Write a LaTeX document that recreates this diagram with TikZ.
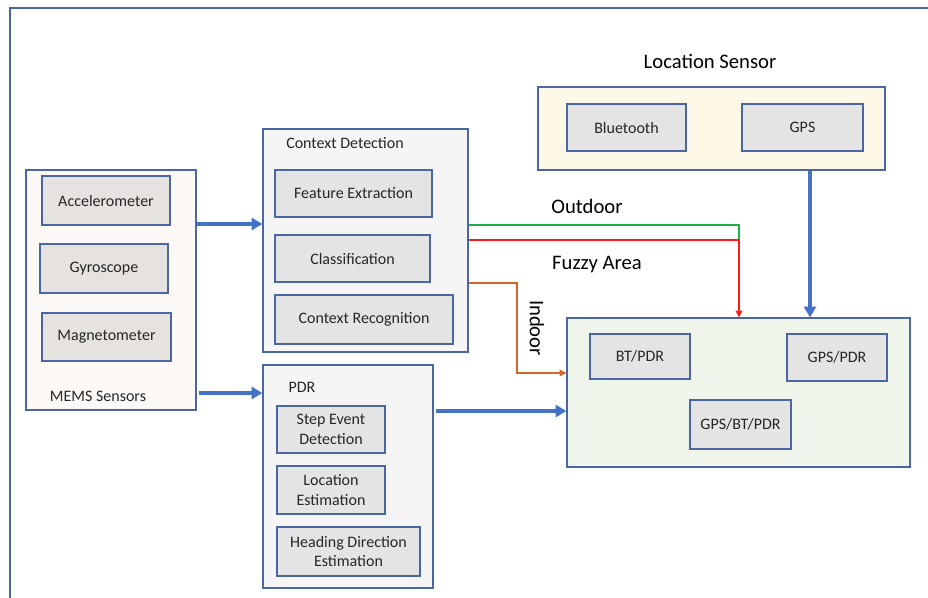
\documentclass[tikz,border=0pt]{standalone}
\usepackage{fontspec}
\setmainfont{Carlito}
\usetikzlibrary{arrows.meta}
\definecolor{framblue}{HTML}{4A67A3}
\definecolor{flowblue}{HTML}{4472C4}
\definecolor{inkgray}{HTML}{262626}
\definecolor{unitfill}{HTML}{E4E4E4}
\definecolor{memsunit}{HTML}{E6E2DF}
\definecolor{memsfill}{HTML}{FCF9F7}
\definecolor{procfill}{HTML}{F5F5F5}
\definecolor{locfill}{HTML}{FDF7E8}
\definecolor{fusfill}{HTML}{F0F5EB}
\definecolor{outgreen}{HTML}{1FAF4B}
\definecolor{fuzzred}{HTML}{FF1A1A}
\definecolor{inorange}{HTML}{D2662A}
\tikzset{
	container/.style={draw=framblue,line width=1pt,rectangle,inner sep=0pt},
	unit/.style={draw=framblue,line width=1.3pt,fill=unitfill,rectangle,inner sep=0pt,
		text=inkgray,font=\fontsize{12}{14.5}\selectfont,align=center},
	blab/.style={text=inkgray,font=\fontsize{12}{14.5}\selectfont},
	biglab/.style={text=black,font=\fontsize{15.5}{18}\selectfont},
	bluearrow/.style={draw=flowblue,line width=2.5pt,-{Triangle[length=8pt,width=9pt]}},
	thin/.style={line width=1.1pt}
}
\begin{document}
\begin{tikzpicture}[x=0.75pt,y=-0.75pt]
	\clip (0,0) rectangle (928,597);
	\fill[white] (0,0) rectangle (928,597);
	\draw [framblue,line width=1.5pt] (10,8) rectangle (960,640);
	% MEMS sensors
	\node [container,fill=memsfill,minimum width=170*0.75pt,minimum height=240*0.75pt] (mems) at (111,290) {};
	\node [unit,fill=memsunit,minimum width=128*0.75pt,minimum height=49*0.75pt] (accel) at (106,200.5) {Accelerometer};
	\node [unit,fill=memsunit,minimum width=128*0.75pt,minimum height=49*0.75pt] (gyro) at (104,268.5) {Gyroscope};
	\node [unit,fill=memsunit,minimum width=129*0.75pt,minimum height=48*0.75pt] (magneto) at (106.5,337) {Magnetometer};
	\node [blab] (memslab) at (98,396) {MEMS Sensors};
	% context detection
	\node [container,fill=procfill,minimum width=205*0.75pt,minimum height=223*0.75pt] (ctx) at (365.5,240.5) {};
	\node [blab] (ctxlab) at (345,143) {Context Detection};
	\node [unit,minimum width=157*0.75pt,minimum height=47*0.75pt] (feat) at (353.5,193.5) {Feature Extraction};
	\node [unit,minimum width=155*0.75pt,minimum height=47*0.75pt] (classif) at (352.5,258.5) {Classification};
	\node [unit,minimum width=178*0.75pt,minimum height=49*0.75pt] (recog) at (364,319.5) {Context Recognition};
	% PDR
	\node [container,fill=procfill,minimum width=170*0.75pt,minimum height=223*0.75pt] (pdr) at (348,476.5) {};
	\node [blab] (pdrlab) at (302,387) {PDR};
	\node [unit,minimum width=108*0.75pt,minimum height=47*0.75pt] (step) at (331,429.5) {Step Event\\Detection};
	\node [unit,minimum width=108*0.75pt,minimum height=48*0.75pt] (locest) at (331,490) {Location\\Estimation};
	\node [unit,minimum width=143*0.75pt,minimum height=49*0.75pt] (heading) at (348.5,551.5) {Heading Direction\\Estimation};
	% location sensor
	\node [biglab] (loclab) at (710,61) {Location Sensor};
	\node [container,fill=locfill,minimum width=347*0.75pt,minimum height=83*0.75pt] (loc) at (711.5,128.5) {};
	\node [unit,minimum width=119*0.75pt,minimum height=47*0.75pt] (bt) at (626.5,127.5) {Bluetooth};
	\node [unit,minimum width=121*0.75pt,minimum height=47*0.75pt] (gps) at (802.5,127.5) {GPS};
	% fusion
	\node [container,fill=fusfill,minimum width=343*0.75pt,minimum height=149*0.75pt] (fus) at (738.5,392.5) {};
	\node [unit,minimum width=100*0.75pt,minimum height=45*0.75pt] (btpdr) at (640,356.5) {BT/PDR};
	\node [unit,minimum width=100*0.75pt,minimum height=47*0.75pt] (gpspdr) at (837,357.5) {GPS/PDR};
	\node [unit,minimum width=101*0.75pt,minimum height=49*0.75pt] (allpdr) at (740.5,424.5) {GPS/BT/PDR};
	% labels on the links
	\node [biglab] (outlab) at (587,206) {Outdoor};
	\node [biglab] (fuzlab) at (597,265) {Fuzzy Area};
	\node [biglab,rotate=-90] (inlab) at (537,328) {Indoor};
	% links
	\draw [bluearrow] (mems.east |- 0,224) -- (ctx.west |- 0,224);
	\draw [bluearrow] ([xshift=2pt]mems.east |- 0,393) -- (pdr.west |- 0,393);
	\draw [bluearrow] ([xshift=2pt]pdr.east |- 0,411) -- (fus.west |- 0,411);
	\draw [bluearrow] (loc.south -| 810,0) -- (fus.north -| 810,0);
	\draw [thin,outgreen] (ctx.east |- 0,225) -- (739,225) -- (739,240);
	\draw [thin,fuzzred,-{Triangle[length=5pt,width=5pt]}] (ctx.east |- 0,240) -| (fus.north -| 739,0);
	\draw [thin,inorange,-{Triangle[length=5pt,width=5pt]}] (ctx.east |- 0,283) -- (517,283) |- (fus.west |- 0,373);
\end{tikzpicture}
\end{document}
